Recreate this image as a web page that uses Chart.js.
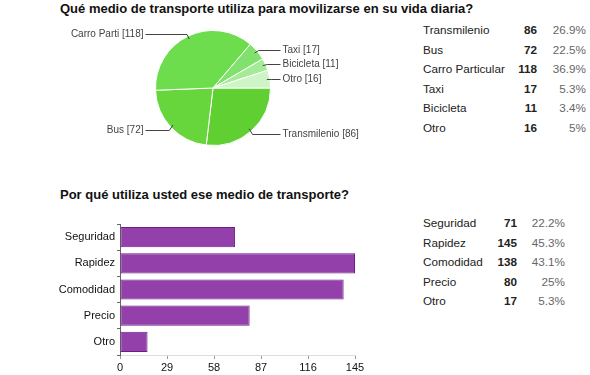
<!DOCTYPE html>
<html>
<head>
<meta charset="utf-8">
<script src="https://cdn.jsdelivr.net/npm/chart.js"></script>
<style>
  body { margin: 0; background: #fff; font-family: "Liberation Sans", Arial, sans-serif; }
  #page { position: relative; width: 590px; height: 375px; overflow: hidden; }
  .title { position: absolute; left: 60px; font-weight: bold; font-size: 13px; color: #111; white-space: nowrap; }
  .box { position: absolute; }
  table { position: absolute; border-collapse: collapse; font-size: 11.7px; color: #222; }
  td { padding: 0; height: 19.5px; white-space: nowrap; }
  td.num { font-weight: bold; text-align: right; }
  td.pct { color: #666; text-align: right; }
</style>
</head>
<body>
<div id="page">
  <div class="title" style="top:1px">Qué medio de transporte utiliza para movilizarse en su vida diaria?</div>
  <div class="box" style="left:60px;top:25px;width:306px;height:126px"><canvas id="pieChart"></canvas></div>
  <table id="t1" style="left:423px;top:20px"></table>

  <div class="title" style="top:187px">Por qué utiliza usted ese medio de transporte?</div>
  <div class="box" style="left:40px;top:215px;width:330px;height:160px"><canvas id="barChart"></canvas></div>
  <table id="t2" style="left:423px;top:213px"></table>
</div>
<script>
// pregunta 1: medio de transporte
const modes = ['Transmilenio', 'Bus', 'Carro Particular', 'Taxi', 'Bicicleta', 'Otro'];
const modeShort = ['Transmilenio', 'Bus', 'Carro Parti', 'Taxi', 'Bicicleta', 'Otro'];
const modeCounts = [86, 72, 118, 17, 11, 16];
const modePct = ['26.9%', '22.5%', '36.9%', '5.3%', '3.4%', '5%'];
const modeColors = ['#5fcf31', '#67d53c', '#6edd4d', '#80e26d', '#a5eb97', '#cdf5c6'];

// pregunta 2: razones
const reasons = ['Seguridad', 'Rapidez', 'Comodidad', 'Precio', 'Otro'];
const reasonCounts = [71, 145, 138, 80, 17];
const reasonPct = ['22.2%', '45.3%', '43.1%', '25%', '5.3%'];
const xTicks = [0, 29, 58, 87, 116, 145];

const FONT = '"Liberation Sans", Arial, sans-serif';

function fillTable(id, names, counts, pcts, w1, w2, w3) {
  const t = document.getElementById(id);
  names.forEach((n, i) => {
    const tr = document.createElement('tr');
    tr.innerHTML = '<td style="width:' + w1 + 'px">' + n + '</td>' +
      '<td class="num" style="width:' + w2 + 'px">' + counts[i] + '</td>' +
      '<td class="pct" style="width:' + w3 + 'px">' + pcts[i] + '</td>';
    t.appendChild(tr);
  });
}
fillTable('t1', modes, modeCounts, modePct, 90, 24, 49);
fillTable('t2', reasons, reasonCounts, reasonPct, 70, 24, 48);

// etiquetas con lineas al lado del pie
const pieLabels = {
  id: 'pieLabels',
  afterDraw(chart) {
    const ctx = chart.ctx;
    const arcs = chart.getDatasetMeta(0).data;
    ctx.save();
    ctx.font = '10px ' + FONT;
    ctx.fillStyle = '#444';
    ctx.strokeStyle = '#444';
    ctx.lineWidth = 1;
    ctx.textBaseline = 'middle';
    arcs.forEach((arc, i) => {
      const p = arc.getProps(['x', 'y', 'startAngle', 'endAngle', 'outerRadius']);
      const mid = (p.startAngle + p.endAngle) / 2;
      const r = p.outerRadius;
      const sx = p.x + Math.cos(mid) * (r - 3), sy = p.y + Math.sin(mid) * (r - 3);
      let ey = p.y + Math.sin(mid) * (r + 2);
      if (Math.sin(mid) > 0.6) ey += 2;
      ey = Math.round(ey) + 0.5;
      const ex = p.x + Math.cos(mid) * (r + 2);
      const right = Math.cos(mid) >= 0;
      const lx = right ? p.x + r + 10 : p.x - r - 10;
      ctx.beginPath();
      ctx.moveTo(sx, sy);
      ctx.lineTo(ex, ey);
      ctx.lineTo(lx, ey);
      ctx.stroke();
      ctx.textAlign = right ? 'left' : 'right';
      ctx.fillText(modeShort[i] + ' [' + modeCounts[i] + ']', right ? lx + 2 : lx - 2, ey);
    });
    ctx.restore();
  }
};

new Chart(document.getElementById('pieChart'), {
  type: 'pie',
  data: {
    labels: modes,
    datasets: [{
      data: modeCounts,
      backgroundColor: modeColors,
      borderColor: '#fff',
      borderWidth: 1
    }]
  },
  options: {
    animation: false,
    responsive: true,
    maintainAspectRatio: false,
    rotation: 90,
    layout: { padding: { top: 5, bottom: 5, left: 95, right: 95 } },
    plugins: { legend: { display: false }, tooltip: { enabled: false } }
  },
  plugins: [pieLabels]
});

new Chart(document.getElementById('barChart'), {
  type: 'bar',
  data: {
    labels: reasons,
    datasets: [{
      data: reasonCounts,
      backgroundColor: '#9440aa',
      borderColor: '#6b1f82',
      borderWidth: 1,
      borderSkipped: false,
      categoryPercentage: 1,
      barPercentage: 0.77
    }]
  },
  options: {
    indexAxis: 'y',
    animation: false,
    responsive: true,
    maintainAspectRatio: false,
    layout: { padding: { top: 9, right: 15, left: 0, bottom: 0 } },
    plugins: { legend: { display: false }, tooltip: { enabled: false } },
    scales: {
      x: {
        min: 0,
        max: 145,
        afterBuildTicks(s) { s.ticks = xTicks.map(v => ({ value: v })); },
        ticks: { color: '#111', font: { family: FONT, size: 11 }, padding: 2, maxRotation: 0 },
        grid: { drawOnChartArea: false, tickLength: 4, color: '#999' },
        border: { color: '#ddd' },
        afterFit(s) { s.height = 20; }
      },
      y: {
        ticks: { color: '#111', font: { family: FONT, size: 11 }, padding: 2 },
        grid: { drawOnChartArea: false, tickLength: 3, color: '#666' },
        border: { color: '#666' },
        afterFit(s) { s.width = 80; }
      }
    }
  }
});
</script>
</body>
</html>
